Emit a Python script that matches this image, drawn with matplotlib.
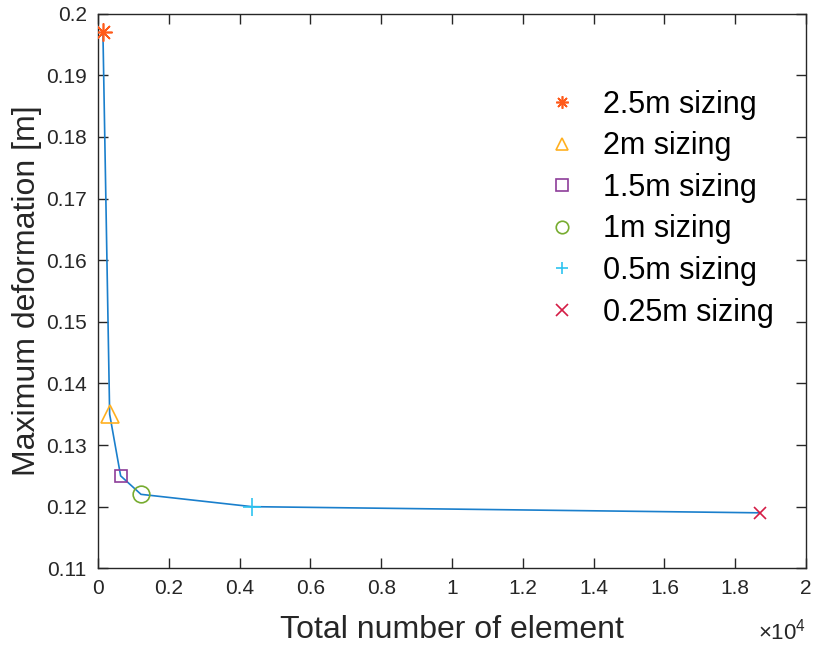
import matplotlib.pyplot as plt
import numpy as np

plt.rcParams['font.family'] = ['Liberation Sans', 'DejaVu Sans']
plt.rcParams['mathtext.fontset'] = 'custom'
plt.rcParams['mathtext.rm'] = 'Liberation Sans'

# data
labels = ['2.5m sizing', '2m sizing', '1.5m sizing', '1m sizing', '0.5m sizing', '0.25m sizing']
elements = [140, 330, 640, 1215, 4350, 18700]
deformation = [0.197, 0.135, 0.125, 0.122, 0.120, 0.119]

markers = [(8, 2, 0), '^', 's', 'o', '+', 'x']
colors = ['#FF5A1A', '#FFB020', '#8E3D99', '#77AC30', '#2EC4F0', '#D41C45']
sizes = [13, 13, 9, 12, 13, 8]

fig = plt.figure(figsize=(8.13, 6.48), dpi=100)
ax = fig.add_axes([0.1205, 0.123, 0.871, 0.856])

ax.plot(elements, deformation, color='#1A7FCC', lw=1.2, zorder=2)
for x, y, m, c, s, lab in zip(elements, deformation, markers, colors, sizes, labels):
    ax.plot(x, y, linestyle='none', marker=m, markersize=s, markerfacecolor='none',
            markeredgecolor=c, markeredgewidth=1.2, color=c, label=lab, zorder=3)

ax.set_xlim(0, 20000)
ax.set_ylim(0.11, 0.2)
xt = np.arange(0, 20001, 2000)
ax.set_xticks(xt)
ax.set_xticklabels(['0', '0.2', '0.4', '0.6', '0.8', '1', '1.2', '1.4', '1.6', '1.8', '2'])
yt = np.arange(0.11, 0.2001, 0.01)
ax.set_yticks(yt)
ax.set_yticklabels(['0.11', '0.12', '0.13', '0.14', '0.15', '0.16', '0.17', '0.18', '0.19', '0.2'])

ax.tick_params(direction='in', top=True, right=True, length=7, width=1.0,
               labelsize=15, colors='#262626', labelcolor='#262626', pad=8)
for sp in ax.spines.values():
    sp.set_color('#262626')
    sp.set_linewidth(1.0)

ax.set_xlabel('Total number of element', fontsize=23, color='#262626', labelpad=12)
ax.set_ylabel('Maximum deformation [m]', fontsize=23, color='#262626', labelpad=3)
ax.text(1.0, -0.09, r'$\times10^4$', transform=ax.transAxes, ha='right', va='top',
        fontsize=16, color='#262626')

leg = ax.legend(loc='upper right', bbox_to_anchor=(0.972, 0.885), frameon=False,
                fontsize=22, handlelength=1.2, handletextpad=0.75, labelspacing=0.38,
                borderaxespad=0)
for h in leg.legend_handles:
    h.set_markersize(9)

fig.savefig('out.png', dpi=100)
